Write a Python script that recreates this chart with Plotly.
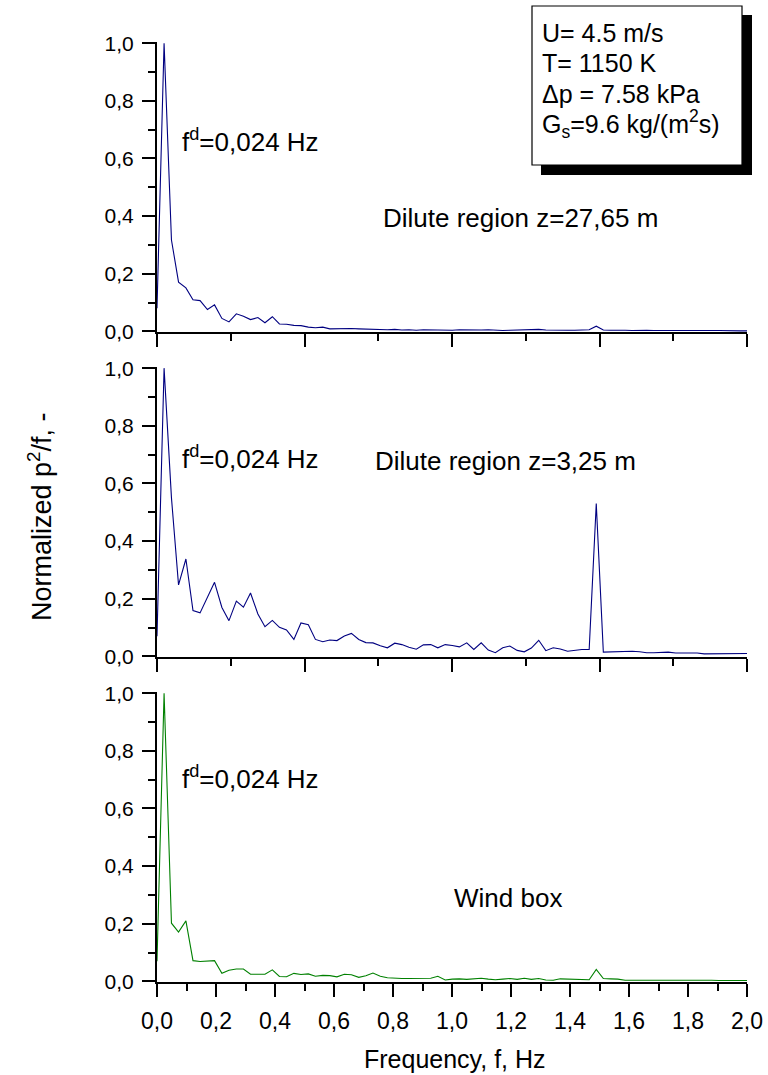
import plotly.graph_objects as go

# ---------------- data ----------------
freq = [0.000, 0.024, 0.049, 0.073, 0.098, 0.122, 0.146, 0.171, 0.195, 0.220,
        0.244, 0.269, 0.293, 0.317, 0.342, 0.366, 0.391, 0.415, 0.439, 0.464,
        0.488, 0.513, 0.537, 0.562, 0.586, 0.610, 0.635, 0.659, 0.684, 0.708,
        0.732, 0.757, 0.781, 0.806, 0.830, 0.854, 0.879, 0.903, 0.928, 0.952,
        0.977, 1.001, 1.025, 1.050, 1.074, 1.099, 1.123, 1.147, 1.172, 1.196,
        1.221, 1.245, 1.269, 1.294, 1.318, 1.343, 1.367, 1.392, 1.416, 1.440,
        1.465, 1.489, 1.513, 1.538, 1.562, 1.587, 1.611, 1.636, 1.660, 1.684,
        1.709, 1.733, 1.758, 1.782, 1.806, 1.831, 1.855, 1.880, 1.904, 1.929,
        1.953, 1.977, 2.002]

dilute_27 = [0.08, 1.0, 0.317, 0.171, 0.151, 0.110, 0.107, 0.076, 0.092, 0.045,
             0.033, 0.061, 0.053, 0.041, 0.048, 0.030, 0.051, 0.026, 0.025, 0.021,
             0.020, 0.015, 0.013, 0.015, 0.009, 0.010, 0.011, 0.010, 0.009, 0.008,
             0.009, 0.007, 0.006, 0.007, 0.005, 0.006, 0.004, 0.006, 0.005, 0.006,
             0.005, 0.004, 0.006, 0.005, 0.004, 0.005, 0.006, 0.004, 0.003, 0.004,
             0.005, 0.004, 0.006, 0.007, 0.005, 0.004, 0.005, 0.004, 0.004, 0.005,
             0.006, 0.018, 0.005, 0.004, 0.005, 0.004, 0.003, 0.004, 0.004, 0.003,
             0.004, 0.003, 0.003, 0.004, 0.003, 0.003, 0.002, 0.003, 0.003, 0.002,
             0.003, 0.002, 0.002]

dilute_3 = [0.07, 1.0, 0.55, 0.248, 0.338, 0.159, 0.151, 0.205, 0.257, 0.170,
            0.124, 0.192, 0.171, 0.220, 0.147, 0.103, 0.125, 0.101, 0.092, 0.059,
            0.116, 0.110, 0.059, 0.051, 0.057, 0.055, 0.071, 0.080, 0.059, 0.048,
            0.047, 0.037, 0.030, 0.046, 0.041, 0.032, 0.025, 0.040, 0.041, 0.030,
            0.041, 0.038, 0.033, 0.047, 0.024, 0.047, 0.022, 0.013, 0.030, 0.036,
            0.021, 0.016, 0.029, 0.056, 0.020, 0.030, 0.026, 0.018, 0.022, 0.024,
            0.024, 0.530, 0.015, 0.016, 0.017, 0.017, 0.018, 0.016, 0.013, 0.013,
            0.013, 0.015, 0.012, 0.012, 0.012, 0.012, 0.009, 0.009, 0.009, 0.010,
            0.010, 0.010, 0.010]

wind_box = [0.07, 1.0, 0.202, 0.171, 0.210, 0.072, 0.069, 0.071, 0.072, 0.028,
            0.039, 0.043, 0.043, 0.025, 0.026, 0.025, 0.040, 0.017, 0.016, 0.028,
            0.024, 0.026, 0.018, 0.021, 0.020, 0.016, 0.025, 0.023, 0.014, 0.020,
            0.029, 0.018, 0.013, 0.011, 0.010, 0.010, 0.011, 0.010, 0.011, 0.018,
            0.005, 0.008, 0.009, 0.007, 0.010, 0.011, 0.008, 0.006, 0.008, 0.010,
            0.007, 0.011, 0.007, 0.010, 0.005, 0.004, 0.009, 0.008, 0.007, 0.006,
            0.006, 0.042, 0.010, 0.009, 0.008, 0.004, 0.004, 0.005, 0.004, 0.005,
            0.004, 0.005, 0.006, 0.005, 0.004, 0.005, 0.004, 0.004, 0.003, 0.004,
            0.003, 0.003, 0.003]

panel_labels = ["Dilute region z=27,65 m", "Dilute region z=3,25 m", "Wind box"]
peak_label = "f<sup>d</sup>=0,024 Hz"
info_lines = ["U= 4.5 m/s", "T= 1150 K", "\u0394p = 7.58 kPa",
              "G<sub>s</sub>=9.6 kg/(m<sup>2</sup>s)"]
x_title = "Frequency, f, Hz"
y_title = "Normalized p<sup>2</sup>/f, -"

# ---------------- layout helpers ----------------
W, H = 768, 1075
L, R = 157, 747          # plot area left / right in px


def px_x(px):
    return (px - L) / (R - L)


def px_y(py):
    return 1 - py / H


FONT = "Liberation Sans, Arial, sans-serif"
NAVY = "#000080"
GREEN = "#008000"

fig = go.Figure()
series = [(dilute_27, NAVY, "x", "y"), (dilute_3, NAVY, "x2", "y2"),
          (wind_box, GREEN, "x3", "y3")]
for vals, col, xa, ya in series:
    fig.add_trace(go.Scatter(x=freq, y=vals, mode="lines",
                             line=dict(color=col, width=1.1),
                             xaxis=xa, yaxis=ya, showlegend=False,
                             hoverinfo="skip"))

# panel pixel extents (top, bottom) of y axes
panels = [(42, 332), (367, 657), (692, 982)]

common_axis = dict(showline=True, linecolor="black", linewidth=2,
                   ticks="outside", tickcolor="black", tickwidth=2,
                   ticklen=13, showgrid=False, zeroline=False,
                   automargin=False,
                   tickfont=dict(family=FONT, size=21, color="black"))

layout = dict(width=W, height=H, margin=dict(l=L, r=W - R, t=0, b=0, pad=0),
              template="none", autosize=False,
              paper_bgcolor="white", plot_bgcolor="white",
              separators=",.", font=dict(family=FONT, color="black"))

for i, (top, bot) in enumerate(panels):
    n = "" if i == 0 else str(i + 1)
    ya = dict(common_axis)
    ya.update(domain=[px_y(bot), px_y(top)], range=[-0.002, 1.004],
              anchor="x" + n, tickmode="linear", tick0=0, dtick=0.2,
              tickformat=".1f", ticklabelstandoff=4,
              minor=dict(ticks="outside", ticklen=7, tickwidth=2,
                         tickcolor="black", dtick=0.1, tick0=0))
    xa = dict(common_axis)
    xa.update(domain=[0, 1], range=[0, 2.0], anchor="y" + n,
              tickmode="linear", tick0=0)
    if i < 2:
        xa.update(dtick=0.5, showticklabels=False,
                  minor=dict(ticks="outside", ticklen=7, tickwidth=2,
                             tickcolor="black", dtick=0.25, tick0=0))
    else:
        xa.update(dtick=0.2, tickformat=".1f", ticklabelstandoff=4,
                  tickfont=dict(family=FONT, size=23, color="black"),
                  minor=dict(ticks="outside", ticklen=7, tickwidth=2,
                             tickcolor="black", dtick=0.1, tick0=0))
    layout["xaxis" + n] = xa
    layout["yaxis" + n] = ya

fig.update_layout(**layout)

ann = []
# peak labels
for py in (140, 457, 777):
    ann.append(dict(x=px_x(180), y=px_y(py), xref="paper", yref="paper",
                    text=peak_label, showarrow=False, xanchor="left",
                    yanchor="middle", font=dict(family=FONT, size=26)))
# panel labels
for (px, py), txt in zip([(381, 218), (373, 461), (452, 898)], panel_labels):
    ann.append(dict(x=px_x(px), y=px_y(py), xref="paper", yref="paper",
                    text=txt, showarrow=False, xanchor="left",
                    yanchor="middle", font=dict(family=FONT, size=26)))
# info box lines
for py, txt in zip([33, 63, 94, 124], info_lines):
    ann.append(dict(x=px_x(541), y=px_y(py), xref="paper", yref="paper",
                    text=txt, showarrow=False, xanchor="left",
                    yanchor="middle", borderpad=0,
                    font=dict(family=FONT, size=25)))
# axis titles
ann.append(dict(x=px_x(455), y=px_y(1059), xref="paper", yref="paper",
                text=x_title, showarrow=False, xanchor="center",
                yanchor="middle", borderpad=0, font=dict(family=FONT, size=25)))
ann.append(dict(x=px_x(40), y=px_y(517), xref="paper", yref="paper",
                text=y_title, showarrow=False, xanchor="center",
                yanchor="middle", textangle=-90,
                font=dict(family=FONT, size=27)))
fig.update_layout(annotations=ann)

# info box with drop shadow
fig.add_shape(type="rect", xref="paper", yref="paper",
              x0=px_x(541), x1=px_x(752), y0=px_y(175), y1=px_y(15),
              fillcolor="black", line=dict(width=0), layer="above")
fig.add_shape(type="rect", xref="paper", yref="paper",
              x0=px_x(532), x1=px_x(742), y0=px_y(165), y1=px_y(6),
              fillcolor="white", line=dict(color="black", width=1.2),
              layer="above")

fig.write_html("out.html")
